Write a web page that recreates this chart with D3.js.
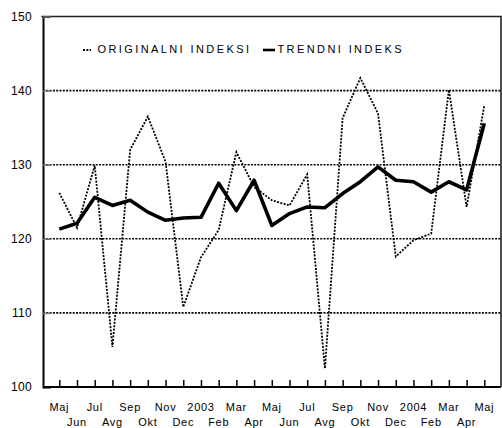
<!DOCTYPE html>
<html>
<meta charset="utf-8" />
<head>
    <script src="https://d3js.org/d3.v7.min.js"></script>
    <style>
        body { margin: 0; background: #fff; }
        text { font-family: Arial, "Liberation Sans", sans-serif; fill: #000; }
    </style>
</head>
<body>
    <div id="chart"></div>
    <script type="text/javascript">
        // month labels, May 2002 - May 2004
        var months = ["Maj","Jun","Jul","Avg","Sep","Okt","Nov","Dec","2003","Feb","Mar","Apr",
                      "Maj","Jun","Jul","Avg","Sep","Okt","Nov","Dec","2004","Feb","Mar","Apr","Maj"];
        var original = [126.2,121.5,129.9,105.4,132.0,136.5,130.4,110.8,117.5,121.2,131.7,127.0,
                        125.2,124.5,128.7,102.5,136.3,141.7,136.9,117.6,119.8,120.7,140.1,124.3,138.0];
        var trend = [121.3,122.1,125.6,124.5,125.2,123.6,122.5,122.8,122.9,127.5,123.8,127.9,
                     121.8,123.4,124.3,124.2,126.1,127.7,129.7,127.9,127.7,126.3,127.7,126.6,135.6];
        var yTicks = [100, 110, 120, 130, 140, 150];
        var legendNames = ["ORIGINALNI INDEKSI", "TRENDNI INDEKS"];

        const width = 502, height = 428;
        const plotLeft = 43, plotRight = 501, plotTop = 16.5, plotBottom = 387;

        var svg = d3.select("#chart").append("svg")
            .attr("width", width)
            .attr("height", height);

        var x = d3.scalePoint()
            .domain(d3.range(months.length))
            .range([59.3, 484.3]);
        var y = d3.scaleLinear()
            .domain([100, 150])
            .range([plotBottom, plotTop]);

        // dotted gridlines
        svg.selectAll("line.grid")
            .data(yTicks.filter(d => d > 100 && d < 150))
            .enter().append("line")
            .attr("class", "grid")
            .attr("x1", plotLeft).attr("x2", plotRight)
            .attr("y1", d => y(d)).attr("y2", d => y(d))
            .attr("stroke", "#000")
            .attr("stroke-width", 1.6)
            .attr("stroke-dasharray", "2,1.3");

        // frame: top and right
        svg.append("path")
            .attr("d", `M${plotLeft - 1.5},${plotTop}H${plotRight}V${plotBottom}`)
            .attr("fill", "none")
            .attr("stroke", "#222")
            .attr("stroke-width", 1.6);

        // y axis
        var yAxis = d3.axisRight(y).tickValues(yTicks).tickSize(8).tickFormat("");
        var yg = svg.append("g").attr("transform", `translate(${plotLeft},0)`).call(yAxis);
        yg.select(".domain").attr("stroke", "#000").attr("stroke-width", 2);
        yg.selectAll(".tick line").attr("stroke", "#777").attr("stroke-width", 1.5);

        svg.selectAll("text.ylab")
            .data(yTicks)
            .enter().append("text")
            .attr("class", "ylab")
            .attr("x", 32)
            .attr("y", d => y(d))
            .attr("dy", "0.36em")
            .attr("text-anchor", "end")
            .style("font-size", "12px")
            .style("letter-spacing", "0.3px")
            .text(d => d);

        // x axis, ticks pointing up
        var xAxis = d3.axisTop(x).tickSize(7).tickFormat("");
        var xg = svg.append("g").attr("transform", `translate(0,${plotBottom})`).call(xAxis);
        xg.select(".domain").attr("d", `M${plotLeft},0H${plotRight}`)
            .attr("stroke", "#000").attr("stroke-width", 2);
        xg.selectAll(".tick line").attr("stroke", "#000").attr("stroke-width", 1.5);

        svg.selectAll("text.xlab")
            .data(months)
            .enter().append("text")
            .attr("class", "xlab")
            .attr("x", (d, i) => x(i))
            .attr("y", (d, i) => i % 2 === 0 ? 410.5 : 425.5)
            .attr("text-anchor", "middle")
            .style("font-size", "11px")
            .style("letter-spacing", "0.7px")
            .text(d => d);

        var line = d3.line()
            .x((d, i) => x(i))
            .y(d => y(d));

        svg.append("path")
            .datum(original)
            .attr("d", line)
            .attr("fill", "none")
            .attr("stroke", "#000")
            .attr("stroke-width", 1.8)
            .attr("stroke-dasharray", "2,1.4");

        svg.append("path")
            .datum(trend)
            .attr("d", line)
            .attr("fill", "none")
            .attr("stroke", "#000")
            .attr("stroke-width", 3.6)
            .attr("stroke-linejoin", "round");

        // legend
        var legend = svg.append("g");
        legend.append("line")
            .attr("x1", 83).attr("x2", 91).attr("y1", 50).attr("y2", 50)
            .attr("stroke", "#000").attr("stroke-width", 1.8)
            .attr("stroke-dasharray", "2,1.4");
        legend.append("text")
            .attr("x", 97.5).attr("y", 52.5)
            .style("font-size", "11px")
            .style("letter-spacing", "2.4px")
            .text(legendNames[0]);
        legend.append("line")
            .attr("x1", 263).attr("x2", 275).attr("y1", 50).attr("y2", 50)
            .attr("stroke", "#000").attr("stroke-width", 2.6);
        legend.append("text")
            .attr("x", 277.5).attr("y", 52.5)
            .style("font-size", "11px")
            .style("letter-spacing", "2.4px")
            .text(legendNames[1]);
    </script>
</body>
</html>
